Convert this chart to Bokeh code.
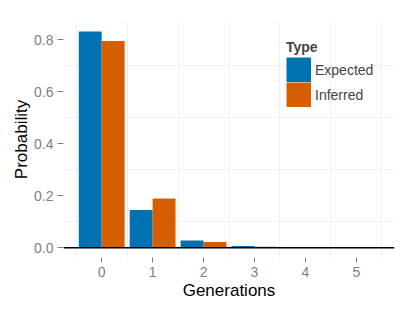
from bokeh.plotting import figure
from bokeh.models import ColumnDataSource, FixedTicker, PrintfTickFormatter, Span, Legend, LegendItem
from bokeh.transform import dodge
from bokeh.embed import file_html
from bokeh.resources import INLINE

generations = [0, 1, 2, 3, 4, 5]
expected = [0.832, 0.146, 0.028, 0.007, 0.002, 0.001]
inferred = [0.795, 0.190, 0.023, 0.004, 0.002, 0.001]
y_ticks = [0.0, 0.2, 0.4, 0.6, 0.8]
type_labels = ["Expected", "Inferred"]
colors = ["#0072B2", "#D55E00"]

src = ColumnDataSource(dict(gen=generations, expected=expected, inferred=inferred))

FONT = "Liberation Sans"
p = figure(width=415, height=312, output_backend="svg", toolbar_location=None,
           x_range=(-0.75, 5.75), y_range=(-0.037, 0.87),
           min_border_left=63, min_border_right=21, min_border_top=21, min_border_bottom=55)
p.outline_line_color = None
p.background_fill_color = "white"
p.border_fill_color = "white"

r1 = p.vbar(x=dodge("gen", -0.225), top="expected", bottom=0, width=0.45, source=src,
            fill_color=colors[0], line_color=None)
r2 = p.vbar(x=dodge("gen", 0.225), top="inferred", bottom=0, width=0.45, source=src,
            fill_color=colors[1], line_color=None)

# hidden twins used only for the legend keys (outlined so the key fills its box)
k1 = p.vbar(x=dodge("gen", -0.225), top="expected", bottom=0, width=0.45, source=src,
            fill_color=colors[0], line_color=colors[0], line_width=5,
            line_join="miter", visible=False)
k2 = p.vbar(x=dodge("gen", 0.225), top="inferred", bottom=0, width=0.45, source=src,
            fill_color=colors[1], line_color=colors[1], line_width=5,
            line_join="miter", visible=False)

p.add_layout(Span(location=0, dimension="width", line_color="black", line_width=1.5))

p.xaxis.ticker = FixedTicker(ticks=generations)
p.yaxis.ticker = FixedTicker(ticks=y_ticks)
p.yaxis.formatter = PrintfTickFormatter(format="%.1f")
p.xgrid.ticker = FixedTicker(ticks=[g + 0.5 for g in [-1] + generations])
p.ygrid.ticker = FixedTicker(ticks=[0.1, 0.3, 0.5, 0.7])
p.grid.grid_line_color = "#f0f0f0"
p.grid.grid_line_width = 1

for ax in (p.xaxis, p.yaxis):
    ax.axis_line_color = None
    ax.major_tick_line_color = "#7f7f7f"
    ax.major_tick_in = 0
    ax.major_tick_out = 5
    ax.minor_tick_line_color = None
    ax.major_label_text_color = "#7f7f7f"
    ax.major_label_text_font = FONT
    ax.major_label_text_font_size = "14px"
    ax.axis_label_text_font = FONT
    ax.axis_label_text_font_size = "17px"
    ax.axis_label_text_font_style = "normal"
    ax.axis_label_text_color = "black"
    ax.major_label_standoff = 4

p.yaxis.major_tick_out = 6
p.xaxis.axis_label_standoff = 1
p.yaxis.axis_label_standoff = 0
p.xaxis.axis_label = "Generations"
p.yaxis.axis_label = "Probability"

legend = Legend(items=[LegendItem(label=type_labels[0], renderers=[k1]),
                       LegendItem(label=type_labels[1], renderers=[k2])],
                location=(223, 150), title="Type")
legend.title_text_font = FONT
legend.title_text_font_size = "14px"
legend.title_text_font_style = "bold"
legend.title_standoff = 2
legend.label_text_font = FONT
legend.label_text_font_size = "14px"
legend.glyph_width = 25
legend.glyph_height = 25
legend.label_height = 25
legend.label_standoff = 4
legend.spacing = 0
legend.padding = 0
legend.margin = 0
legend.border_line_color = None
legend.background_fill_alpha = 0
legend.inactive_fill_alpha = 0
legend.click_policy = "none"
p.add_layout(legend)

open("out.html", "w").write(file_html(p, INLINE))
